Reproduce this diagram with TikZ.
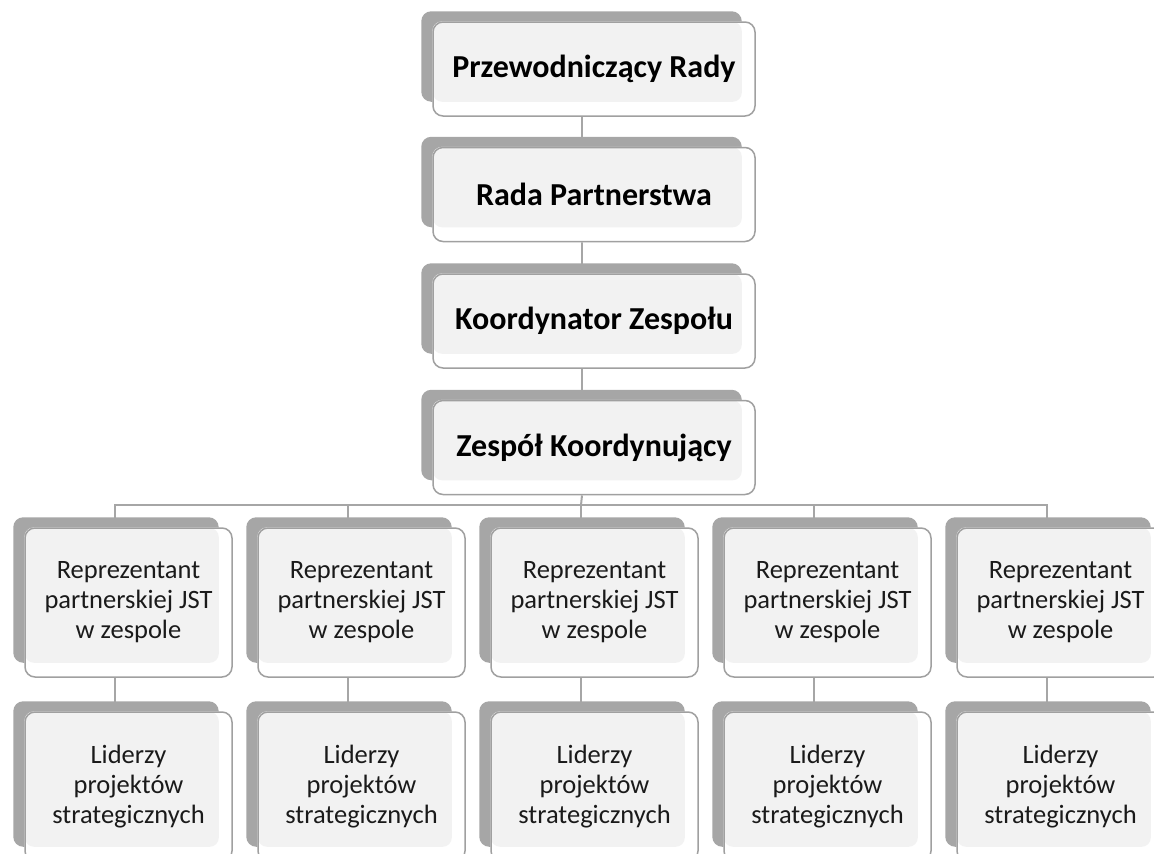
\documentclass[tikz,border=0pt]{standalone}
\usepackage{fontspec}
\setmainfont{Carlito}
\usetikzlibrary{backgrounds}
\definecolor{plategray}{HTML}{A6A6A6}
\definecolor{edgegray}{HTML}{A0A0A0}
\definecolor{innergray}{HTML}{F2F2F2}
\definecolor{textgray}{HTML}{1A1A1A}

\tikzset{
  headbox/.style={draw=edgegray, line width=1.5pt, rounded corners=10pt,
    minimum width=322pt, minimum height=94pt, inner sep=0pt,
    font=\fontsize{32}{38}\selectfont\bfseries},
  unitbox/.style={draw=edgegray, line width=1.5pt, rounded corners=10pt,
    minimum width=207pt, minimum height=149pt, inner sep=0pt, align=center,
    text=textgray, font=\fontsize{26.5}{30}\selectfont},
  link/.style={draw=plategray, line width=2pt},
}

\begin{document}
\begin{tikzpicture}[x=1pt,y=-1pt]
      \useasboundingbox (0,0) rectangle (1154,854);
      % chain of the council
      \node[headbox] (przew) at (594,69) {Przewodniczący Rady};
      \node[headbox] (rada) at (594,194.5) {Rada Partnerstwa};
      \node[headbox] (koord) at (594,321) {Koordynator Zespołu};
      \node[headbox] (zespol) at (594,447.5) {Zespół Koordynujący};
      % five columns
      \foreach \i in {0,...,4} {
        \node[unitbox] (rep\i) at ({128.5+233*\i},602.5) {Reprezentant\\partnerskiej JST\\w zespole};
        \node[unitbox] (lid\i) at ({128.5+233*\i},786.5) {Liderzy\\projektów\\strategicznych};
      }
      \coordinate (bus) at (581,505);
      \begin{scope}[on background layer]
        \draw[link] ([xshift=-12pt]przew.south) -- ([xshift=-12pt]rada.north);
        \draw[link] ([xshift=-12pt]rada.south) -- ([xshift=-12pt]koord.north);
        \draw[link] ([xshift=-12pt]koord.south) -- ([xshift=-12pt]zespol.north);
        \draw[link] ([xshift=-12pt]zespol.south) -- (bus);
        \foreach \i in {0,...,4} {
          \draw[link] (bus) -| ([xshift=-13.5pt]rep\i.north);
          \draw[link] ([xshift=-13.5pt]rep\i.south) -- ([xshift=-13.5pt]lid\i.north);
        }
        % shadow plates and inner faces
        \foreach \n in {przew,rada,koord,zespol,rep0,rep1,rep2,rep3,rep4,lid0,lid1,lid2,lid3,lid4} {
          \fill[plategray, rounded corners=10pt] ([shift={(-11pt,10pt)}]\n.north west) rectangle ([shift={(-14pt,15pt)}]\n.south east);
          \fill[white, rounded corners=10pt] (\n.north west) rectangle (\n.south east);
          \fill[innergray, rounded corners=9pt] ([shift={(0.7pt,-0.7pt)}]\n.north west) rectangle ([shift={(-14pt,15pt)}]\n.south east);
        }
      \end{scope}
\end{tikzpicture}
\end{document}
